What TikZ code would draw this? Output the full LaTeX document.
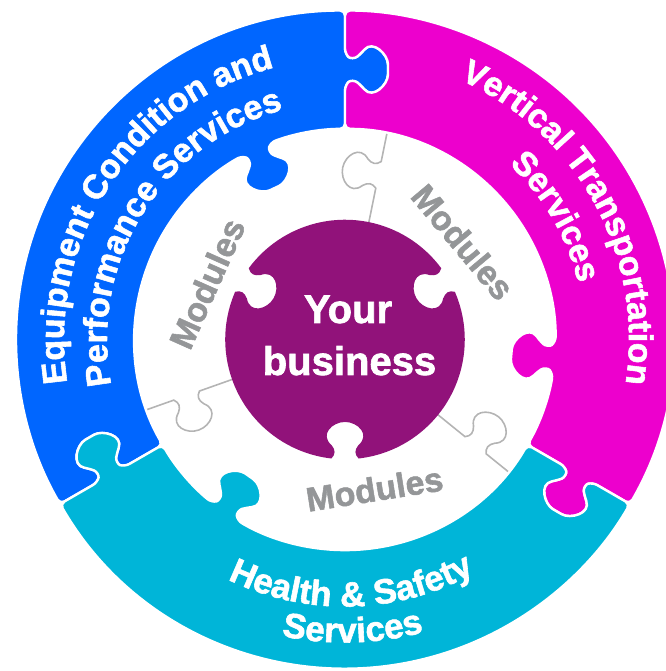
\documentclass[tikz,border=0pt]{standalone}
\usepackage{fontspec}
\setmainfont{Liberation Sans}[BoldFeatures={FakeBold=1.6}]
\usetikzlibrary{decorations.text}

\definecolor{equipblue}{RGB}{0,102,255}
\definecolor{vertmagenta}{RGB}{237,0,205}
\definecolor{safecyan}{RGB}{0,181,216}
\definecolor{bizpurple}{RGB}{145,18,122}
\definecolor{modgrey}{RGB}{180,180,180}
\definecolor{modtextgrey}{RGB}{148,150,152}

\newcommand{\ringfont}{\fontsize{34}{34}\selectfont\bfseries}
\newcommand{\cyanfont}{\fontsize{35}{35}\selectfont\bfseries}
% jigsaw knob from local (-16,0) to (16,0), bulging to +y
\newcommand{\knob}[1]{.. controls ([#1]-11,5) and ([#1]-11,10) .. ([#1]-16,16)
    .. controls ([#1]-30,28) and ([#1]-15,43) .. ([#1]0,43)
    .. controls ([#1]15,43) and ([#1]30,28) .. ([#1]16,16)
    .. controls ([#1]11,10) and ([#1]11,5) .. ([#1]16,0)}

\begin{document}
\begin{tikzpicture}[x=1pt,y=1pt,
    piece/.style={draw=white,line width=2.4pt,line join=round,rounded corners=5pt},
    modline/.style={draw=modgrey,line width=1.6pt},
    ringtext/.style={decorate,decoration={text along path,text align=center,
        text color=white,text={#1}}}]
    \tikzstyle{modtext}=[text=modtextgrey,font=\fontsize{34}{34}\selectfont\bfseries]
    \tikzstyle{biztext}=[text=white,font=\fontsize{40}{40}\selectfont\bfseries]
    \useasboundingbox (-345,-331.5) rectangle (320,339.5);
    % module seams
    \foreach \ang in {78.5,199.5,321}
      \draw[modline,rotate=\ang-90] (90:112) -- (0,154.4)
        \knob{shift={(0,168)},rotate=90,scale=0.85} -- (90:215);
    % your business
    \fill[bizpurple] (36.52:119.77) arc[start angle=36.52,end angle=143.48,radius=119.77]
      \knob{rotate=-120,shift={(0,-119)},scale=0.85}
      arc[start angle=156.52,end angle=263.48,radius=119.77]
      \knob{shift={(0,-119)},scale=0.85}
      arc[start angle=276.52,end angle=383.48,radius=119.77]
      \knob{rotate=120,shift={(0,-119)},scale=0.85} -- cycle;
    % ring pieces
    \foreach \rot/\col in {0/equipblue,-120/vertmagenta,120/safecyan}
      \fill[piece,fill=\col,rotate=\rot] (90:232) -- (0,254)
        \knob{shift={(0,270)},rotate=-90,xscale=-1}
        -- (90:329) arc[start angle=90,end angle=210,radius=329]
        -- ([rotate=120]0,286) \knob{rotate=120,shift={(0,270)},rotate=-90}
        -- (210:210.6) arc[start angle=210,end angle=119.36,radius=210.6]
        \knob{rotate=25,shift={(0,210)},yscale=-1}
        arc[start angle=110.64,end angle=90,radius=210.6] -- cycle;
    % labels
    \path[ringtext={|\ringfont|Equipment Condition and}]
      (226.7:281) arc[start angle=226.7,end angle=66.7,radius=281];
    \path[ringtext={|\ringfont|Performance Services}]
      (228:238) arc[start angle=228,end angle=68,radius=238];
    \path[ringtext={|\ringfont|Vertical Transportation}]
      (108.6:284) arc[start angle=108.6,end angle=-51.4,radius=284];
    \path[ringtext={|\ringfont|Services}]
      (110.2:240) arc[start angle=110.2,end angle=-49.8,radius=240];
    \path[ringtext={|\cyanfont|Health {\&} Safety}]
      (191.5:267) arc[start angle=191.5,end angle=351.5,radius=267];
    \path[ringtext={|\cyanfont|Services}]
      (191.5:303) arc[start angle=191.5,end angle=351.5,radius=303];
    \node[modtext,rotate=66] (modleft) at (-138,56) {Modules};
    \node[modtext,rotate=-50] (modright) at (118,97.5) {Modules};
    \node[modtext,rotate=9] (modbottom) at (29.5,-149.5) {Modules};
    \node[biztext,anchor=base] (your) at (3,16.5) {Your};
    \node[biztext,anchor=base] (business) at (4.5,-35.5) {business};
\end{tikzpicture}
\end{document}
